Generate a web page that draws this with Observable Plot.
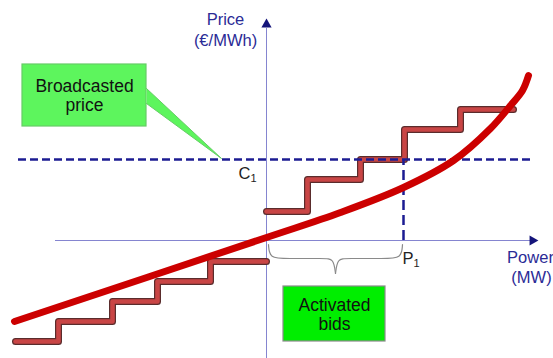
<!DOCTYPE html>
<html><head><meta charset="utf-8">
<script src="https://cdn.jsdelivr.net/npm/d3@7"></script>
<script src="https://cdn.jsdelivr.net/npm/@observablehq/plot@0.6"></script>
<style>body{margin:0;background:#fff}</style>
</head><body><div id="chart"></div>
<script>
// Offer (merit-order) curve: power vs price, origin at the axes crossing
const curvePower = [-252, 0, 74, 137, 187, 224, 244, 256, 262];
const curvePrice = [-81, 3, 28, 53, 80, 112, 135, 150, 165];

// Bid staircase below zero (not activated)
const lowPower = [-251, -208, -208, -154, -154, -109, -109, -56, -56, 0];
const lowPrice = [-101, -101, -81, -81, -61, -61, -41, -41, -21, -21];

// Bid staircase above zero
const highPower = [0, 41, 41, 94, 94, 138, 138, 194, 194, 247];
const highPrice = [29, 29, 61, 61, 81, 81, 111, 111, 131, 131];

// Clearing values
const clearPrice = 81;   // C1
const clearPower = 137;  // P1

// Axis extents
const powerExtent = [-211, 267];
const priceExtent = [-118, 212];

// Brace under activated bids
const bracePower = [2, 3, 20, 58, 67, 69, 69, 71, 80, 118, 135, 136];
const bracePrice = [-4, -18, -18, -18, -18, -33, -33, -18, -18, -18, -18, -4];
const braceSide  = ["L","L","L","L","L","L","R","R","R","R","R","R"];

// Callout boxes
const boxLabels = ["Broadcasted\nprice", "Activated\nbids"];
const boxX1 = [-244, 17], boxX2 = [-120, 119];
const boxY1 = [176, -46], boxY2 = [114, -101];
const boxFill = ["#5df55d", "#00ee00"];
const boxStroke = ["#66cc66", "#8a8a8a"];
const pointerPower = [-120, -45, -120];
const pointerPrice = [152, 82, 137];

// Axis titles
const axisLabels = ["Price", "(€/MWh)", "Power", "(MW)"];
const axisLabelX = [-41, -41, 264, 265];
const axisLabelY = [221, 200, -17, -37];

// Point labels (letter + subscript)
const pointLabels = ["C1", "P1"];
const pointLabelX = [-28, 136];
const pointLabelY = [67, -18];

const curve = curvePower.map((p, i) => ({x: p, y: curvePrice[i]}));
const low = lowPower.map((p, i) => ({x: p, y: lowPrice[i]}));
const high = highPower.map((p, i) => ({x: p, y: highPrice[i]}));
const brace = bracePower.map((p, i) => ({x: p, y: bracePrice[i], z: braceSide[i]}));
const boxes = boxLabels.map((t, i) => ({t, x1: boxX1[i], x2: boxX2[i], y1: boxY1[i], y2: boxY2[i], fill: boxFill[i], stroke: boxStroke[i]}));
const pointer = pointerPower.map((p, i) => ({x: p, y: pointerPrice[i]}));
const axisText = axisLabels.map((t, i) => ({t, x: axisLabelX[i], y: axisLabelY[i]}));
const pointText = pointLabels.map((t, i) => ({t, x: pointLabelX[i], y: pointLabelY[i]}));

const font = "Liberation Sans, Arial, sans-serif";
const navy = "#1c1c92";

const chart = Plot.plot({
  width: 553, height: 358,
  margin: 0,
  x: {domain: [-266, 287], axis: null},
  y: {domain: [-118, 240], axis: null},
  style: {fontFamily: font, background: "#fff"},
  marks: [
    // axes
    Plot.ruleY([0], {x1: powerExtent[0], x2: powerExtent[1], stroke: "#8585d0", strokeWidth: 1}),
    Plot.ruleX([0], {y1: priceExtent[0], y2: priceExtent[1], stroke: "#8585d0", strokeWidth: 1}),
    Plot.dot([{x: 0, y: priceExtent[1] + 4}], {x: "x", y: "y", symbol: "triangle", r: 3.8, fill: "#14147a", stroke: null}),
    Plot.dot([{x: powerExtent[1] - 1, y: 0}], {x: "x", y: "y", symbol: "triangle", r: 3.8, rotate: 90, fill: "#14147a", stroke: null}),
    // brace
    Plot.line(brace, {x: "x", y: "y", z: "z", curve: "basis", stroke: "#8a8a8a", strokeWidth: 1.2}),
    // bid staircases
    Plot.line(low, {x: "x", y: "y", stroke: "#5a2c2c", strokeWidth: 7, strokeLinejoin: "round", strokeLinecap: "round"}),
    Plot.line(low, {x: "x", y: "y", stroke: "#c94545", strokeWidth: 4.6, strokeLinejoin: "round", strokeLinecap: "round"}),
    Plot.line(high, {x: "x", y: "y", stroke: "#5a2c2c", strokeWidth: 7, strokeLinejoin: "round", strokeLinecap: "round"}),
    Plot.line(high, {x: "x", y: "y", stroke: "#c94545", strokeWidth: 4.6, strokeLinejoin: "round", strokeLinecap: "round"}),
    // clearing dashed lines
    Plot.ruleY([clearPrice], {x1: -248, x2: 267, stroke: navy, strokeWidth: 2.5, strokeDasharray: "8,4"}),
    Plot.ruleX([clearPower], {y1: 0, y2: clearPrice, stroke: navy, strokeWidth: 2.5, strokeDasharray: "10,5"}),
    // offer curve
    Plot.line(curve, {x: "x", y: "y", curve: "catmull-rom", stroke: "#cc0000", strokeWidth: 7, strokeLinecap: "round"}),
    // callouts
    Plot.rect(boxes, {x1: "x1", x2: "x2", y1: "y1", y2: "y2", fill: "fill", stroke: "stroke", strokeWidth: 1.2}),
    Plot.line(pointer, {x: "x", y: "y", fill: boxFill[0], stroke: boxStroke[0], strokeWidth: 1}),
    Plot.text(boxes, {x: d => (d.x1 + d.x2) / 2, y: d => (d.y1 + d.y2) / 2, text: "t", fontSize: 17.5, lineHeight: 1.1, fill: "#111"}),
    // axis titles
    Plot.text(axisText, {x: "x", y: "y", text: "t", fontSize: 16.5, fill: "#2b2b96"}),
    // point labels
    Plot.text(pointText, {x: "x", y: "y", text: "t", fontSize: 16.5, textAnchor: "start", fill: "#222"})
  ]
});
document.getElementById("chart").appendChild(chart);

// render subscripts for C1 / P1
d3.select(chart).selectAll("text").each(function() {
  const el = d3.select(this);
  const t = el.text();
  if (pointLabels.includes(t)) {
    el.text(null);
    el.append("tspan").text(t.slice(0, -1));
    el.append("tspan").attr("font-size", "11px").attr("dy", "0.3em").text(t.slice(-1));
  }
});
</script></body></html>
